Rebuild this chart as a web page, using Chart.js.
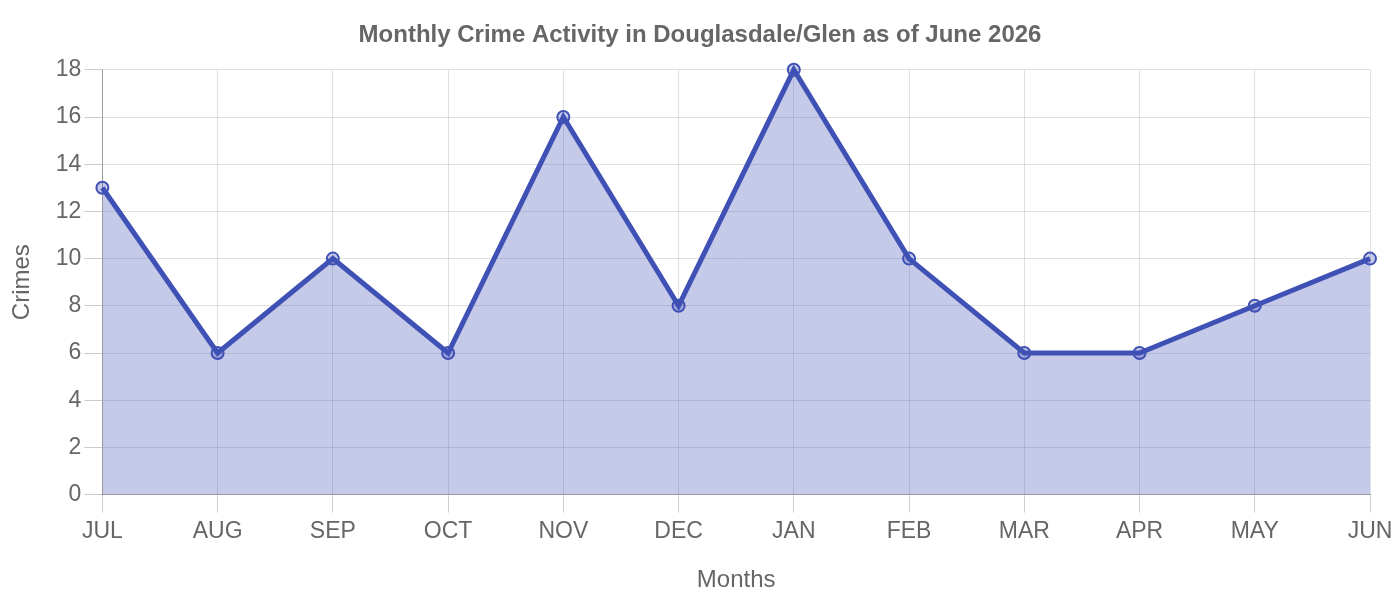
<!DOCTYPE html>
<html>
<head>
<meta charset="utf-8">
<script src="https://cdn.jsdelivr.net/npm/chart.js@4"></script>
<style>
  html, body { margin: 0; padding: 0; background: #fff; }
  #wrap { width: 1400px; height: 600px; }
</style>
</head>
<body>
<div id="wrap"><canvas id="crimeChart"></canvas></div>
<script>
// Monthly crime counts, Jul 2025 - Jun 2026
const months = ['JUL', 'AUG', 'SEP', 'OCT', 'NOV', 'DEC', 'JAN', 'FEB', 'MAR', 'APR', 'MAY', 'JUN'];
const crimes = [13, 6, 10, 6, 16, 8, 18, 10, 6, 6, 8, 10];

Chart.defaults.font.family = '"Liberation Sans", Arial, sans-serif';
Chart.defaults.color = '#666';

const config = {
    type: 'line',
    data: {
        labels: months,
        datasets: [{
            label: 'Crimes',
            data: crimes,
            borderColor: '#3f51b5',
            backgroundColor: 'rgba(63, 81, 181, 0.3)',
            fill: true,
            tension: 0,
            clip: false,
            borderWidth: 5,
            pointRadius: 6,
            pointBorderWidth: 2,
            pointBackgroundColor: 'rgba(63, 81, 181, 0.3)',
            pointBorderColor: '#3f51b5'
        }]
    },
    options: {
        responsive: true,
        maintainAspectRatio: false,
        animation: false,
        layout: { padding: { left: 30, right: 30, top: 10, bottom: 5 } },
        plugins: {
            legend: { display: false },
            title: {
                display: true,
                text: 'Monthly Crime Activity in Douglasdale/Glen as of June 2026',
                font: { size: 24, weight: 'bold' },
                padding: { top: 11, bottom: 20 }
            }
        },
        scales: {
            x: {
                offset: false,
                grid: { color: 'rgba(0,0,0,0.12)', tickColor: 'rgba(0,0,0,0.2)', tickLength: 18 },
                border: { color: 'rgba(0,0,0,0.3)' },
                ticks: { padding: 5, font: { size: 23 } },
                title: { display: true, text: 'Months', font: { size: 24 }, padding: { top: 16, bottom: 0 } }
            },
            y: {
                min: 0,
                max: 18,
                grid: { color: 'rgba(0,0,0,0.12)', tickColor: 'rgba(0,0,0,0.2)', tickLength: 18 },
                border: { color: 'rgba(0,0,0,0.3)' },
                ticks: { stepSize: 2, font: { size: 23 } },
                title: { display: true, text: 'Crimes', font: { size: 24 }, padding: { top: -22, bottom: 16 } }
            }
        }
    }
};

window.onload = function () {
    var ctx = document.getElementById('crimeChart').getContext('2d');
    new Chart(ctx, config);
};
</script>
</body>
</html>
